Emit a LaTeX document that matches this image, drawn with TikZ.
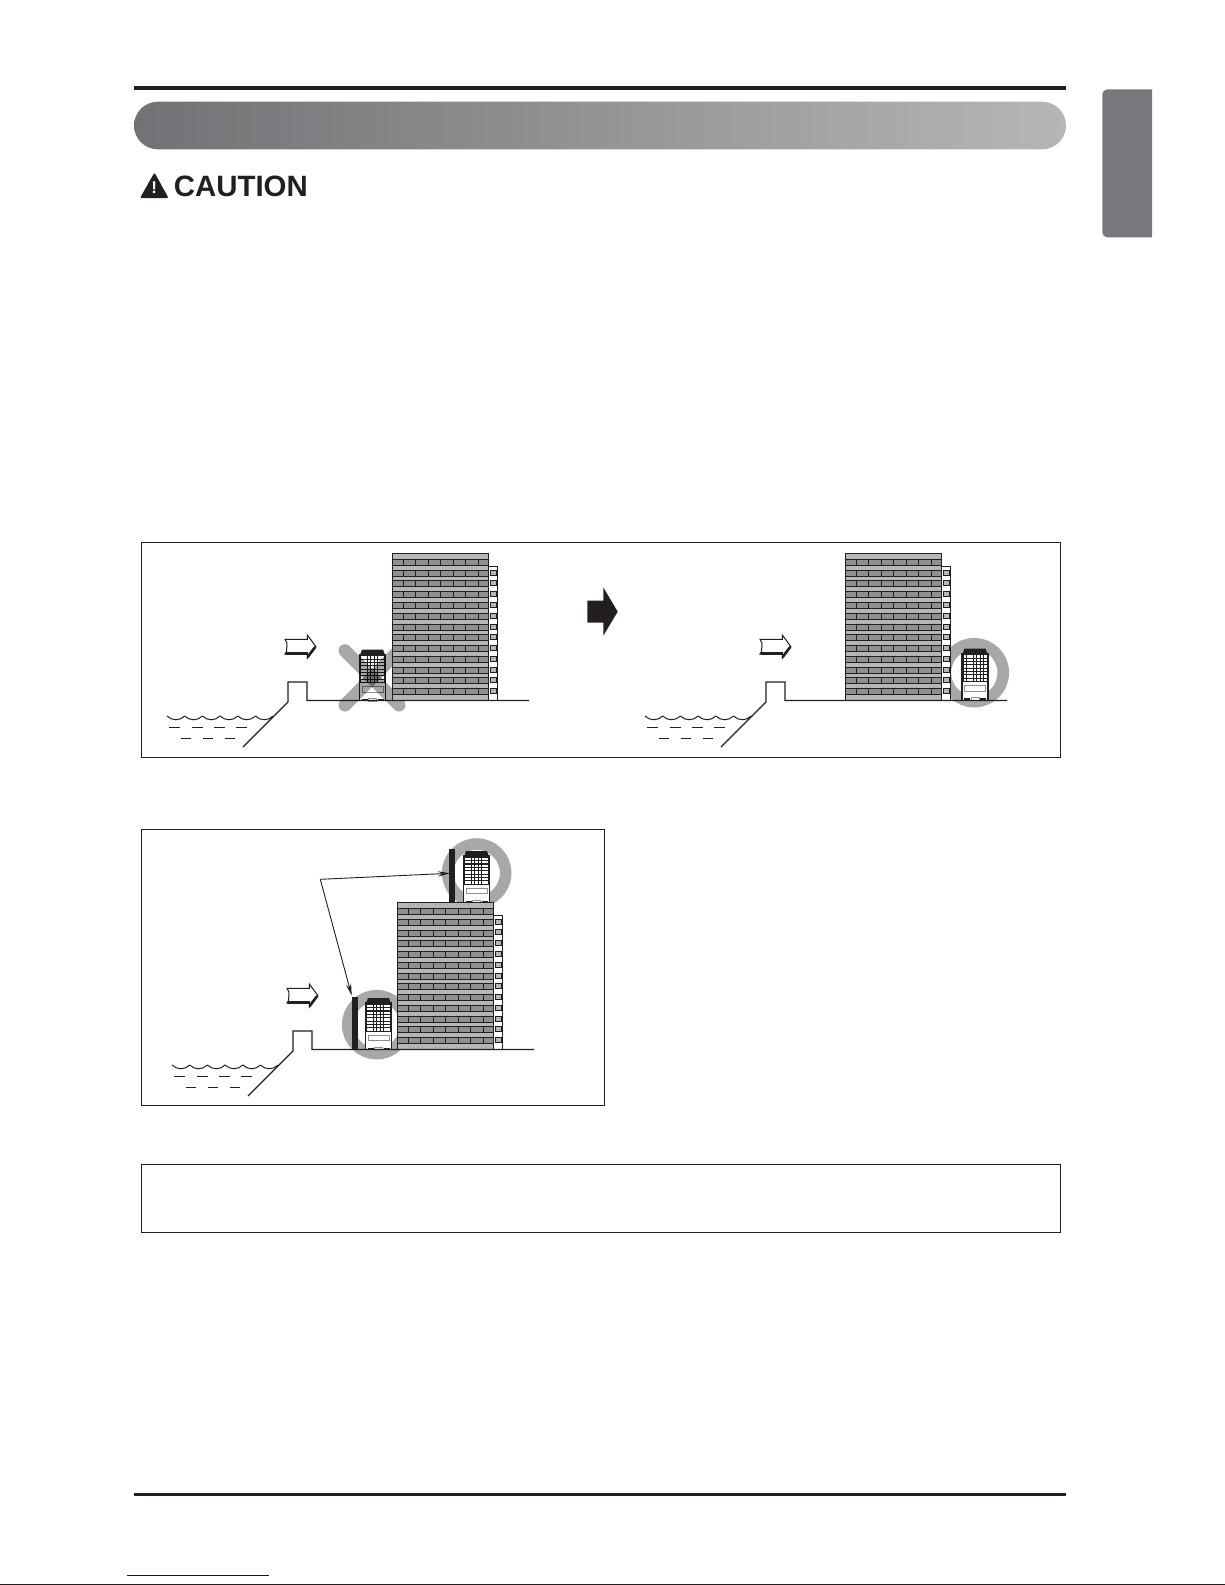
\documentclass[tikz,border=0pt]{standalone}
\usepackage{fontspec}
\setmainfont{Liberation Sans}
\usetikzlibrary{arrows.meta, positioning, calc}
\definecolor{towerlight}{HTML}{B5B6B8}
\definecolor{towerdark}{HTML}{8E8F91}
\definecolor{ringgray}{HTML}{A7A8AA}
\definecolor{inkblack}{HTML}{231F20}
\definecolor{tabgray}{HTML}{77787B}
\tikzset{
    framebox/.style={draw=inkblack, line width=0.5pt},
    ink/.style={draw=inkblack, line width=0.5pt},
    ring/.style={draw=ringgray, line width=5.8pt},
    polebar/.style={fill=inkblack, inner sep=0pt, minimum width=3pt},
    leader/.style={draw=inkblack, line width=0.45pt, -{Stealth[length=6pt, width=2.6pt]}},
    towerblock/.pic={
        \fill[towerlight] (0,0) rectangle (96,147.5);
        \draw[ink, line width=0.45pt] (0,0) rectangle (96,147.5);
        \fill[white] (96,13) rectangle (105,147.5);
        \draw[ink, line width=0.45pt] (96,13) rectangle (105,147.5);
        \foreach \row in {0,...,12} {
            \fill[towerdark, draw=inkblack, line width=0.35pt] (0,{6.3+\row*10.77}) rectangle (96,{12.3+\row*10.77});
            \foreach \col in {11,23.5,36,48.5,61,73.5,86}
                \draw[inkblack, line width=0.35pt] (\col,{6.3+\row*10.77}) -- (\col,{12.3+\row*10.77});
        }
        \foreach \row in {0,...,11}
            \fill[towerlight, draw=inkblack, line width=0.3pt] (98,{17+\row*10.77}) rectangle (104,{22+\row*10.77});
    },
    outdoorunit/.pic={
        \fill[white] (1,5) rectangle (26,52);
        \draw[inkblack, line width=0.8pt] (0.5,52) -- (0.5,5.5) -- (26.5,5.5) -- (26.5,52);
        \fill[inkblack] (1,6) -- (3,0.5) -- (24,0.5) -- (26,6) -- cycle;
        \fill[inkblack] (1,6) rectangle (26,34);
        \foreach \gridrow in {0,...,7}
            \foreach \gridcol in {0,...,6}
                \fill[white] ({2+\gridcol*3.4},{7.3+\gridrow*3.35}) rectangle ++(2.6,2.3);
        \draw[towerdark, fill=white, line width=0.5pt] (3,37.5) rectangle (24,43);
        \fill[inkblack] (2.5,50) rectangle (8.5,52);
        \fill[inkblack] (18.5,50) rectangle (24.5,52);
        \draw[towerdark, fill=white, line width=0.4pt] (9.5,49.5) rectangle (17.5,52);
    },
    windarrow/.pic={
        \draw[ink, fill=white, line join=miter] (0,0.3) -- (22.3,0.3) -- (22.3,-4) -- (31,7.7) -- (22.3,19.3) -- (22.3,15)
            -- (0,15) .. controls (3.5,11) and (0,10) .. (2,7.5) .. controls (3.5,5) and (1,3) .. (0,0.3) -- cycle;
        \draw[inkblack, line width=1.3pt] (0.5,14.2) -- (22.6,14.2);
        \draw[inkblack, line width=1.3pt] (22.6,18) -- (30.2,8);
    },
    shoreline/.pic={
        \draw[ink, line width=0.6pt, line join=miter] (243,747) -- (288,702) -- (288,682) -- (307,682) -- (307,700.5) -- (529,700.5);
        \foreach \i in {0,...,5}
            \draw[ink] ({167+\i*17.7},716) .. controls ({172+\i*17.7},721) and ({179.7+\i*17.7},721) .. ({184.7+\i*17.7},716);
        \foreach \a in {169,192,214,236}
            \draw[ink, line width=0.4pt] (\a,727.3) -- ({\a+10.5},727.3);
        \foreach \a in {181,203,225}
            \draw[ink, line width=0.4pt] (\a,738.3) -- ({\a+10},738.3);
    }
}
\begin{document}
\begin{tikzpicture}[x=0.5pt, y=-0.5pt]
\useasboundingbox (0,0) rectangle (1225,1585);
\fill[white] (0,0) rectangle (1225,1585);

% page header
\fill[inkblack] (134,86) rectangle (1066,90);
\shade[left color=tabgray!95!black, right color=towerlight, rounded corners=11.9pt] (134,101.7) rectangle (1066,149.3);
\fill[tabgray] (1152,89.3) [rounded corners=2.5pt] -- (1102.3,89.3) -- (1102.3,237.3) [sharp corners] -- (1152,237.3) -- cycle;
\fill[inkblack, rounded corners=0.6pt] (154.5,172.5) -- (168.5,198) -- (140,198) -- cycle;
\node[text=white, font=\bfseries\fontsize{8.5}{8.5}\selectfont, inner sep=0pt] (cautionmark) at (154.3,188) {!};
\node[anchor=west, text=inkblack, font=\bfseries\fontsize{14.7}{15}\selectfont, inner sep=0pt] (cautionlabel) at (173.5,186) {CAUTION};

% first panel
\draw[framebox] (141,542) rectangle (1060,757);
\pic at (359,649) {outdoorunit};
\draw[ringgray, line width=6.5pt, line cap=round, blend mode=multiply] (345,650.7) -- (399,705);
\draw[ringgray, line width=6.5pt, line cap=round, blend mode=multiply] (399,650.7) -- (345,705);
\pic at (392,553) {towerblock};
\pic at (0,0) {shoreline};
\pic at (285,639) {windarrow};
\fill[inkblack] (587.3,600.7) -- (603.3,600.7) -- (603.3,587.3) -- (617.7,611.7) -- (603.3,635.7) -- (603.3,622.7) -- (587.3,622.7) -- cycle;
\draw[ring] (974.3,672.7) circle (29);
\pic at (845,553) {towerblock};
\pic at (961.5,648) {outdoorunit};
\pic at (478,0) {shoreline};
\pic at (760,639) {windarrow};

% second panel
\draw[framebox] (141,829.5) rectangle (604.5,1105);
\draw[ring] (476.7,873) circle (29);
\draw[ring] (376.7,1024.7) circle (29);
\pic at (463,850.5) {outdoorunit};
\pic at (365,997.5) {outdoorunit};
\pic at (397,902) {towerblock};
\pic at (5,349) {shoreline};
\pic at (287,988) {windarrow};
\node[polebar, minimum height=26.5pt] (poletop) at (452,875.5) {};
\node[polebar, minimum height=26pt] (polelow) at (354.5,1023.2) {};
\coordinate (joint) at (320.3,879.3);
\coordinate (tiptop) at (450,873.3);
\coordinate (tiplow) at (351.7,995.7);
\draw[leader] (joint) -- (tiptop);
\draw[leader] (joint) -- (tiplow);

% third panel
\draw[framebox] (141,1164) rectangle (1060,1232);

% page footer
\fill[inkblack] (134,1493) rectangle (1066,1495.5);
\draw[blue!80!black, line width=0.5pt] (127,1575.3) -- (269,1575.3);
\draw[inkblack, line width=0.5pt] (0,1584.3) -- (1225,1584.3);
\end{tikzpicture}
\end{document}
